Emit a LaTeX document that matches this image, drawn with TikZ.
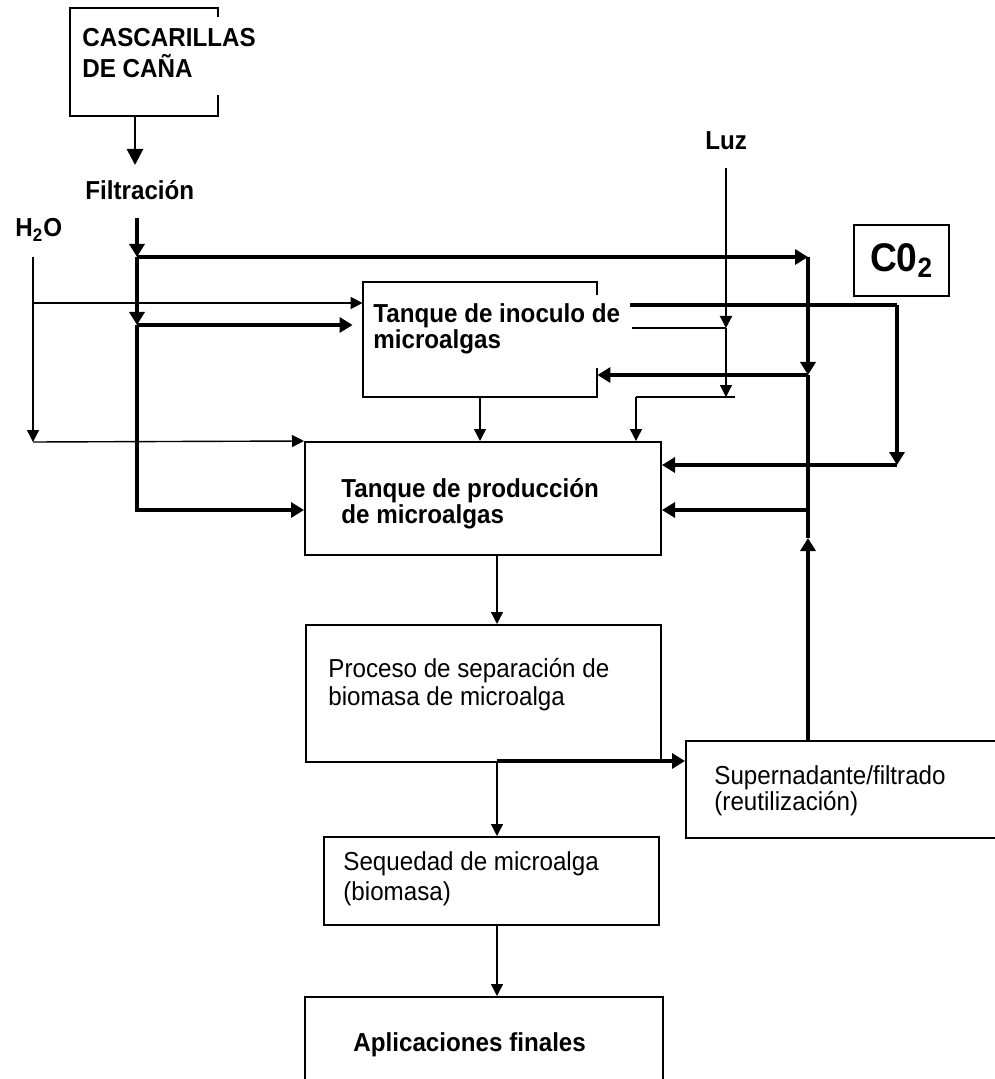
\documentclass[tikz,border=0pt]{standalone}
\usepackage{fontspec}
\setmainfont{Liberation Sans}
\setsansfont[FakeStretch=0.93]{Liberation Sans}
\usetikzlibrary{arrows.meta}

\begin{document}
\begin{tikzpicture}[
  font=\sffamily,
  every node/.style={inner sep=0pt},
  tank/.style={draw, line width=1pt},
  hollow/.style={draw=none},
  edge/.style={line width=1pt},
  txt/.style={anchor=north west, align=left, font=\sffamily\fontsize{13}{#1}\selectfont},
  txt/.default=13,
  btxt/.style={anchor=north west, align=left, font=\sffamily\bfseries\fontsize{13}{#1}\selectfont},
  btxt/.default=13,
  flow/.style={line width=2pt, -{Triangle[length=6.5pt,width=7.5pt]}},
  pipe/.style={line width=2pt},
  feed/.style={line width=0.7pt, -{Triangle[length=6pt,width=6pt]}},
  wire/.style={line width=0.7pt},
  x=0.5pt, y=-0.5pt
]
\useasboundingbox (0,0) rectangle (994,1079);

% Boxes
\node[hollow, minimum width=74pt, minimum height=54pt] (cas) at (144,62) {};
\node[hollow, minimum width=117pt, minimum height=57.5pt] (inoc) at (480,339.5) {};
\node[tank, minimum width=178pt, minimum height=56.5pt] (prod) at (483,498.5) {};
\node[tank, minimum width=177.5pt, minimum height=68.5pt] (sep) at (483.5,693.5) {};
\node[tank, minimum width=162pt, minimum height=48.5pt] (sup) at (848,789.5) {};
\node[tank, minimum width=167.5pt, minimum height=44pt] (seq) at (491.5,881) {};
\node[tank, minimum width=179pt, minimum height=49pt] (apl) at (484,1046) {};
\node[tank, minimum width=47.5pt, minimum height=35.5pt,
      font=\sffamily\bfseries\fontsize{20}{22}\selectfont] (co2) at (901.5,260.5) {C0\textsubscript{2}};

% Open frames (text runs over the right edge)
\draw[edge] ([yshift=-4.5pt]cas.north east) -- (cas.north east) -- (cas.north west)
  -- (cas.south west) -- (cas.south east) -- ([yshift=10.5pt]cas.south east);
\draw[edge] ([yshift=-6.5pt]inoc.north east) -- (inoc.north east) -- (inoc.north west)
  -- (inoc.south west) -- (inoc.south east) -- ([yshift=14.5pt]inoc.south east);

% Labels
\node[btxt=15.5] (cas-t) at (82,28.4) {CASCARILLAS\\DE CAÑA};
\node[btxt, anchor=base west] (filt) at (85,200) {Filtración};
\node[btxt, anchor=base west] (h2o) at (15,237) {H\textsubscript{2}O};
\node[btxt, anchor=base west] (luz) at (705,150) {Luz};
\node[btxt] (inoc-t) at (373,303.4) {Tanque de inoculo de\\microalgas};
\node[btxt] (prod-t) at (341,478.4) {Tanque de producción\\de microalgas};
\node[txt=14] (sep-t) at (328,658.4) {Proceso de separación de\\biomasa de microalga};
\node[txt] (sup-t) at (714,765) {Supernadante/filtrado\\(reutilización)};
\node[txt=15] (seq-t) at (343,851.4) {Sequedad de microalga\\(biomasa)};
\node[btxt, anchor=base west] (apl-t) at (353,1051) {Aplicaciones finales};

% Junctions
\coordinate (kB) at (135,165);
\coordinate (fA) at (137,218);
\coordinate (fB) at (137,257);
\coordinate (fC) at (137,325);
\coordinate (fD) at (137,510);
\coordinate (rA) at (808,257);
\coordinate (rB) at (808,375);
\coordinate (rC) at (808,510);
\coordinate (rD) at (808,538);
\coordinate (wA) at (33,257);
\coordinate (wB) at (33,303);
\coordinate (wC) at (33,442);
\coordinate (lA) at (726,168);
\coordinate (lB) at (726,328);
\coordinate (lC) at (726,397);
\coordinate (lD) at (735,397);
\coordinate (lE) at (636,397);
\coordinate (lF) at (632,328);
\coordinate (cA) at (630,305);
\coordinate (cB) at (897,305);
\coordinate (cC) at (897,465);
\coordinate (sA) at (497,761);

% Cascarillas -> filtracion
\draw[line width=1.4pt, -{Triangle[length=8pt,width=8pt]}] (cas.south -| kB) -- (kB);

% Filtered stream
\draw[flow] (fA) -- (fB);
\draw[flow] (fB) -- (fC);
\draw[flow] (fC) -- (fD) -- (prod.west |- fD);
\draw[flow] (fB) -- (rA);
\draw[flow] (rA) -- (rB);
\draw[flow] (fC) -- ([xshift=-5pt]inoc.west |- fC);
\draw[flow] (rB) -- (inoc.east |- rB);
\draw[flow] (rC) -- (prod.east |- rC);

% Reuse of supernatant
\draw[flow] (sup.north -| rD) -- (rD);
\draw[pipe] (rD) -- (rB);

% Water
\draw[feed] (wA) -- (wC);
\draw[feed] (wC) -- (prod.north west);
\draw[feed] (wB) -- (inoc.west |- wB);

% Light
\draw[line width=1pt, -{Triangle[length=6pt,width=6pt]}] (lA) -- (lB);
\draw[wire] (lB) -- (lF);
\draw[feed] (lB) -- (lC);
\draw[wire] (lD) -- (lE);
\draw[feed] (lE) -- (lE |- prod.north);

% CO2
\draw[pipe] (cA) -- (cB);
\draw[flow] (cB) -- (cC);
\draw[flow] (cC) -- (prod.east |- cC);

% Main line
\draw[feed] (inoc.south) -- (inoc.south |- prod.north);
\draw[feed] (prod.south -| sA) -- (sep.north -| sA);
\draw[flow] (sA) -- (sup.west |- sA);
\draw[feed] (sep.south -| sA) -- (seq.north -| sA);
\draw[feed] (seq.south -| sA) -- (apl.north -| sA);

\end{tikzpicture}
\end{document}
